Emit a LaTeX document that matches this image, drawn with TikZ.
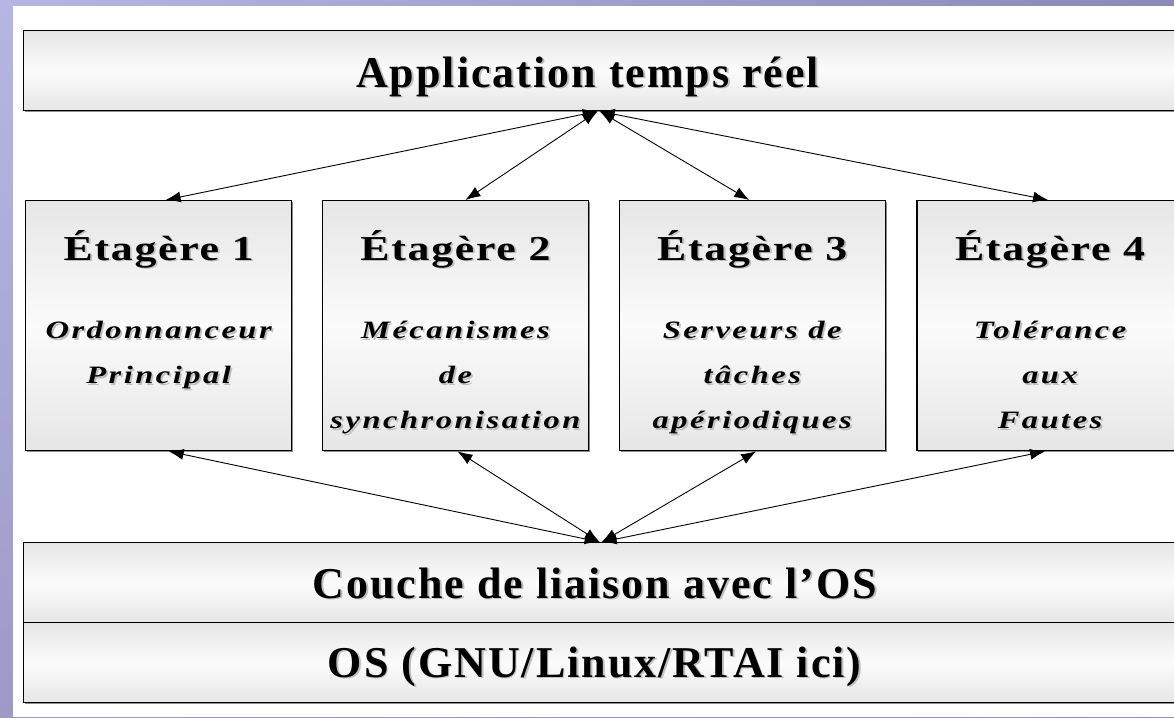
\documentclass[tikz,border=0pt]{standalone}
\usepackage{fontspec}
\setmainfont{Liberation Serif}
\newfontfamily\titrefont[LetterSpace=4.5]{Liberation Serif}
\newfontfamily\etagerefont[FakeStretch=1.25,LetterSpace=5]{Liberation Serif}
\newfontfamily\descfont[FakeStretch=1.3,LetterSpace=10]{Liberation Serif}
\usetikzlibrary{positioning,arrows.meta,shadows,shadings}

\definecolor{mauveclair}{RGB}{182,182,228}
\definecolor{mauvefonce}{RGB}{138,138,184}
\definecolor{mauvebas}{RGB}{158,154,200}
\definecolor{grisbloc}{RGB}{230,230,230}
\definecolor{blancbloc}{RGB}{251,251,251}

% texte avec une petite ombre grise
\newcommand\ombre[1]{\makebox[0pt][l]{\hspace*{1.8pt}\raisebox{-1.8pt}{\color{black!25}#1}}#1}

\begin{document}
\begin{tikzpicture}[
    x=1pt, y=-1pt,
    bloc/.style={rectangle, draw=black, line width=1.3pt, top color=grisbloc, bottom color=grisbloc, middle color=blancbloc,
        drop shadow={shadow xshift=1.3pt, shadow yshift=-1.6pt, fill=black!45, opacity=1}},
    couche/.style={bloc, minimum width=1162pt, minimum height=80pt, anchor=north west},
    etagere/.style={bloc, minimum width=266pt, minimum height=250pt},
    titre/.style={font=\titrefont\bfseries\fontsize{44}{50}\selectfont, anchor=base},
    nometagere/.style={font=\etagerefont\bfseries\fontsize{35}{40}\selectfont, anchor=base},
    desc/.style={font=\descfont\bfseries\itshape\fontsize{25}{45}\selectfont, align=center, anchor=north},
    fleche/.style={{Latex[length=15pt,width=11pt]}-{Latex[length=15pt,width=11pt]}, line width=0.9pt}
]
    % Fond
    \useasboundingbox (0,0) rectangle (1174,717);
    \clip (0,0) rectangle (1174,717);
    \shade[upper left=mauveclair, upper right=mauvefonce, lower left=mauvebas, lower right=mauvefonce] (0,0) rectangle (1174,717);
    \fill[white] (13,6) rectangle (1174,717);

    % Couche du haut
    \node[couche] (app) at (23,30) {};
    \node[titre] (titreapp) at ([xshift=-17pt, yshift=-57pt]app.north) {\ombre{Application temps réel}};

    % Les quatre étagères
    \node[etagere, anchor=north west] (et1) at (25,200) {};
    \node[etagere, right=29.5pt of et1] (et2) {};
    \node[etagere, right=29.5pt of et2] (et3) {};
    \node[etagere, right=30.5pt of et3] (et4) {};

    \node[nometagere] (nom1) at ([yshift=-60pt]et1.north) {\ombre{Étagère 1}};
    \node[nometagere] (nom2) at ([yshift=-60pt]et2.north) {\ombre{Étagère 2}};
    \node[nometagere] (nom3) at ([yshift=-60pt]et3.north) {\ombre{Étagère 3}};
    \node[nometagere] (nom4) at ([yshift=-60pt]et4.north) {\ombre{Étagère 4}};

    \node[desc] (desc1) at ([yshift=-118pt]et1.north) {\ombre{Ordonnanceur}\\\ombre{Principal}};
    \node[desc] (desc2) at ([yshift=-118pt]et2.north) {\ombre{Mécanismes}\\\ombre{de}\\\ombre{synchronisation}};
    \node[desc] (desc3) at ([yshift=-118pt]et3.north) {\ombre{Serveurs de}\\\ombre{tâches}\\\ombre{apériodiques}};
    \node[desc] (desc4) at ([yshift=-118pt]et4.north) {\ombre{Tolérance}\\\ombre{aux}\\\ombre{Fautes}};

    % Couches du bas
    \node[couche] (liaison) at (23,542) {};
    \node[couche] (os) at (23,622) {};
    \node[titre] (titreliaison) at ([xshift=-10pt, yshift=-56pt]liaison.north) {\ombre{Couche de liaison avec l’OS}};
    \node[titre] (titreos) at ([xshift=-10pt, yshift=-55pt]os.north) {\ombre{OS (GNU/Linux/RTAI ici)}};

    % Flèches vers l'application
    \draw[fleche] ([xshift=-7pt]app.south) -- ([xshift=7pt]et1.north);
    \draw[fleche] ([xshift=-7pt]app.south) -- ([xshift=10pt]et2.north);
    \draw[fleche] ([xshift=-5pt]app.south) -- ([xshift=-3pt]et3.north);
    \draw[fleche] ([xshift=-5pt]app.south) -- ([xshift=-2pt]et4.north);

    % Flèches vers la couche de liaison
    \draw[fleche] ([xshift=-5pt]liaison.north) -- ([xshift=10pt]et1.south);
    \draw[fleche] ([xshift=-5pt]liaison.north) -- ([xshift=2pt]et2.south);
    \draw[fleche] ([xshift=-3pt]liaison.north) -- ([xshift=4pt]et3.south);
    \draw[fleche] ([xshift=-3pt]liaison.north) -- ([xshift=-5pt]et4.south);
\end{tikzpicture}
\end{document}
